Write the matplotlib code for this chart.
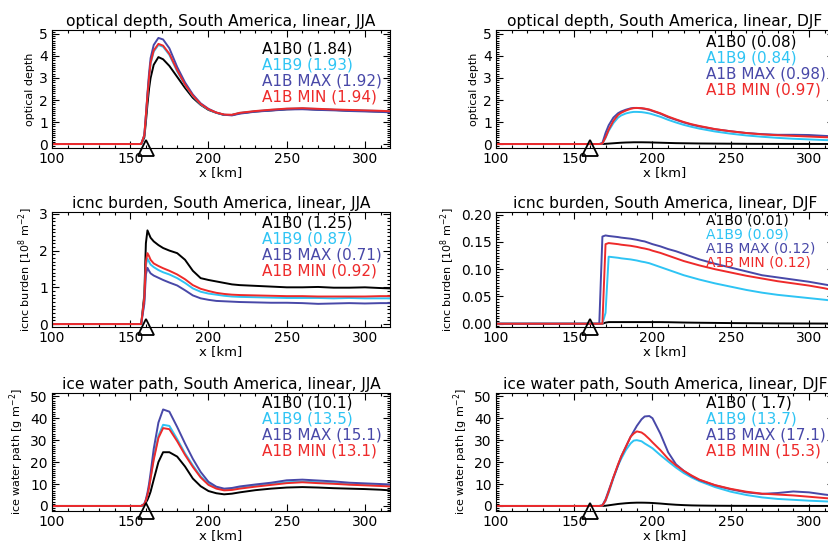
import matplotlib
matplotlib.use('Agg')
import matplotlib.pyplot as plt
from matplotlib.ticker import MultipleLocator, AutoMinorLocator, FormatStrFormatter

# x positions [km] of the read-off points
x_jja = [100, 157, 159, 160, 161, 162, 163, 165, 168, 171, 175, 180, 185, 190, 195,
         200, 205, 210, 215, 220, 230, 240, 250, 260, 270, 280, 290, 300, 310, 316]
x_djf = [100, 166, 168, 170, 172, 175, 178, 180, 183, 186, 188, 190, 193, 195, 198,
         200, 205, 210, 215, 220, 225, 230, 240, 250, 260, 270, 280, 290, 300, 310, 316]

series = ['A1B0', 'A1B9', 'A1B MAX', 'A1B MIN']
colors = ['#000000', '#2ec4f4', '#4848a8', '#ee2a2a']

# optical depth, JJA
od_jja_a1b0 = [0, 0, 0.3, 1.0, 1.8, 2.5, 3.0, 3.6, 3.95, 3.85, 3.55, 3.05, 2.55, 2.1, 1.78,
               1.55, 1.42, 1.32, 1.32, 1.4, 1.48, 1.53, 1.58, 1.6, 1.57, 1.55, 1.52, 1.5, 1.48, 1.46]
od_jja_a1b9 = [0, 0, 0.4, 1.3, 2.2, 3.0, 3.65, 4.2, 4.5, 4.42, 4.05, 3.3, 2.68, 2.18, 1.8,
               1.57, 1.42, 1.33, 1.32, 1.41, 1.49, 1.55, 1.6, 1.62, 1.59, 1.56, 1.54, 1.52, 1.5, 1.48]
od_jja_max = [0, 0, 0.4, 1.3, 2.3, 3.2, 3.9, 4.5, 4.82, 4.75, 4.35, 3.5, 2.8, 2.25, 1.85,
              1.6, 1.43, 1.33, 1.3, 1.38, 1.47, 1.52, 1.57, 1.58, 1.55, 1.53, 1.5, 1.48, 1.46, 1.44]
od_jja_min = [0, 0, 0.4, 1.3, 2.2, 3.0, 3.7, 4.25, 4.55, 4.47, 4.1, 3.35, 2.7, 2.2, 1.82,
              1.58, 1.43, 1.34, 1.33, 1.42, 1.5, 1.56, 1.61, 1.63, 1.6, 1.57, 1.55, 1.53, 1.51, 1.49]

# optical depth, DJF
od_djf_a1b0 = [0, 0, 0, 0.01, 0.02, 0.035, 0.05, 0.06, 0.07, 0.075, 0.08, 0.08, 0.08, 0.078, 0.075,
               0.07, 0.06, 0.05, 0.04, 0.035, 0.03, 0.025, 0.02, 0.015, 0.01, 0.008, 0.006, 0.005, 0.004, 0.003, 0.003]
od_djf_a1b9 = [0, 0, 0.02, 0.28, 0.6, 0.95, 1.2, 1.3, 1.39, 1.44, 1.46, 1.46, 1.45, 1.43, 1.39,
               1.35, 1.24, 1.1, 0.98, 0.87, 0.78, 0.7, 0.57, 0.47, 0.39, 0.33, 0.28, 0.24, 0.21, 0.18, 0.17]
od_djf_max = [0, 0, 0.05, 0.5, 0.85, 1.2, 1.4, 1.48, 1.56, 1.62, 1.64, 1.64, 1.62, 1.6, 1.55,
              1.5, 1.38, 1.22, 1.1, 0.98, 0.88, 0.8, 0.67, 0.58, 0.5, 0.45, 0.42, 0.42, 0.41, 0.37, 0.35]
od_djf_min = [0, 0, 0.02, 0.3, 0.65, 1.05, 1.32, 1.42, 1.52, 1.6, 1.63, 1.64, 1.63, 1.61, 1.57,
              1.52, 1.4, 1.25, 1.12, 1.0, 0.9, 0.82, 0.68, 0.58, 0.5, 0.44, 0.4, 0.37, 0.34, 0.31, 0.3]

# icnc burden, JJA
icnc_jja_a1b0 = [0, 0, 0.8, 2.2, 2.55, 2.45, 2.35, 2.25, 2.15, 2.07, 2.0, 1.93, 1.75, 1.45, 1.25,
                 1.2, 1.16, 1.12, 1.08, 1.06, 1.04, 1.02, 1.0, 1.0, 1.01, 0.99, 0.99, 1.0, 0.98, 0.97]
icnc_jja_a1b9 = [0, 0, 0.65, 1.6, 1.78, 1.7, 1.62, 1.55, 1.47, 1.41, 1.35, 1.25, 1.12, 0.97, 0.88,
                 0.83, 0.8, 0.77, 0.75, 0.74, 0.73, 0.72, 0.71, 0.71, 0.71, 0.7, 0.71, 0.7, 0.7, 0.7]
icnc_jja_max = [0, 0, 0.55, 1.35, 1.53, 1.45, 1.38, 1.32, 1.26, 1.2, 1.13, 1.05, 0.92, 0.78, 0.7,
                0.66, 0.63, 0.62, 0.61, 0.6, 0.59, 0.58, 0.58, 0.57, 0.55, 0.56, 0.57, 0.56, 0.57, 0.57]
icnc_jja_min = [0, 0, 0.7, 1.7, 1.93, 1.85, 1.75, 1.65, 1.58, 1.52, 1.45, 1.35, 1.22, 1.06, 0.96,
                0.9, 0.85, 0.82, 0.8, 0.79, 0.78, 0.77, 0.76, 0.76, 0.75, 0.75, 0.75, 0.75, 0.76, 0.76]

# icnc burden, DJF
icnc_djf_a1b0 = [0, 0, 0, 0.002, 0.003, 0.003, 0.003, 0.003, 0.003, 0.003, 0.003, 0.003, 0.003, 0.003, 0.003,
                 0.003, 0.003, 0.0028, 0.0025, 0.0022, 0.002, 0.0018, 0.0015, 0.0012, 0.001, 0.0008, 0.0006,
                 0.0005, 0.0004, 0.0003, 0.0003]
icnc_djf_a1b9 = [0, 0, 0, 0.02, 0.123, 0.122, 0.121, 0.12, 0.119, 0.118, 0.117, 0.116, 0.114, 0.113, 0.111,
                 0.109, 0.104, 0.099, 0.094, 0.089, 0.085, 0.081, 0.074, 0.068, 0.062, 0.057, 0.053, 0.05,
                 0.047, 0.044, 0.042]
icnc_djf_max = [0, 0, 0.16, 0.162, 0.161, 0.16, 0.159, 0.158, 0.157, 0.156, 0.155, 0.154, 0.152, 0.151, 0.148,
                0.146, 0.142, 0.137, 0.133, 0.128, 0.123, 0.118, 0.11, 0.103, 0.096, 0.089, 0.085, 0.081,
                0.077, 0.072, 0.069]
icnc_djf_min = [0, 0, 0, 0.146, 0.148, 0.147, 0.146, 0.145, 0.144, 0.143, 0.142, 0.141, 0.139, 0.138, 0.136,
                0.134, 0.13, 0.125, 0.12, 0.115, 0.111, 0.107, 0.1, 0.094, 0.088, 0.083, 0.078, 0.074,
                0.07, 0.065, 0.061]

# ice water path, JJA
iwp_jja_a1b0 = [0, 0, 0.5, 1.5, 2.8, 4.5, 6.5, 12, 20, 24.5, 24.5, 22.5, 18, 12.5, 9,
                6.8, 5.8, 5.3, 5.6, 6.2, 7.2, 7.9, 8.4, 8.6, 8.4, 8.1, 7.9, 7.7, 7.4, 7.1]
iwp_jja_a1b9 = [0, 0, 0.8, 2.5, 5, 8.5, 13, 22, 32, 37, 36.5, 30.5, 24, 18.5, 13.5,
                10.2, 8.3, 7.5, 7.7, 8.4, 9.3, 10, 10.8, 11.1, 10.8, 10.4, 9.9, 9.6, 9.4, 9.2]
iwp_jja_max = [0, 0, 1, 3, 6, 10, 15, 26, 38, 44, 43, 36, 28.5, 21.5, 15.5,
               11, 8.8, 7.9, 8.2, 8.9, 9.8, 10.6, 11.7, 12, 11.6, 11.2, 10.6, 10.3, 10, 9.8]
iwp_jja_min = [0, 0, 0.8, 2.5, 5, 8.2, 12.5, 21, 31, 35.5, 35, 29.5, 23.3, 17.8, 13,
               9.6, 7.9, 7.1, 7.3, 7.9, 8.8, 9.6, 10.4, 10.8, 10.4, 10.1, 9.7, 9.4, 9.1, 8.9]

# ice water path, DJF
iwp_djf_a1b0 = [0, 0, 0, 0.1, 0.3, 0.6, 0.9, 1.05, 1.25, 1.4, 1.45, 1.5, 1.5, 1.48, 1.42,
                1.35, 1.1, 0.8, 0.55, 0.38, 0.25, 0.18, 0.1, 0.06, 0.04, 0.03, 0.02, 0.02, 0.01, 0.01, 0.01]
iwp_djf_a1b9 = [0, 0, 0.2, 2.3, 6, 12.5, 18.5, 21.5, 25.5, 28.5, 29.8, 30, 29.5, 28.5, 27.2,
                26.3, 23.2, 20.3, 17.5, 15, 13, 11.3, 8.6, 6.5, 5, 3.9, 3.2, 2.8, 2.4, 2.1, 1.9]
iwp_djf_max = [0, 0, 0.3, 3, 7, 13, 18.5, 22.5, 27, 31.5, 34, 36.5, 39.5, 40.8, 41,
               40, 33, 24.5, 19, 16, 13.6, 11.8, 9.4, 7.6, 6.2, 5.5, 5.9, 6.6, 6.2, 5.2, 4.7]
iwp_djf_min = [0, 0, 0.2, 2.5, 6.5, 13, 19, 22.5, 27, 31.5, 33, 34, 33.5, 32.5, 30.5,
               29, 25.5, 21.5, 18.5, 16, 13.9, 12, 9.5, 7.8, 6.5, 5.6, 5.2, 4.8, 4.2, 3.6, 3.3]

# values in brackets next to each run name
vals_od_jja = ['1.84', '1.93', '1.92', '1.94']
vals_od_djf = ['0.08', '0.84', '0.98', '0.97']
vals_icnc_jja = ['1.25', '0.87', '0.71', '0.92']
vals_icnc_djf = ['0.01', '0.09', '0.12', '0.12']
vals_iwp_jja = ['10.1', '13.5', '15.1', '13.1']
vals_iwp_djf = [' 1.7', '13.7', '17.1', '15.3']

W, H = 829, 543
fig = plt.figure(figsize=(W / 100, H / 100), dpi=100)


def pos(x0, top, bottom, w=338):
    return [x0 / W, 1 - bottom / H, w / W, (bottom - top) / H]


panels = [
    # (position, title, ylabel, x, data, vals, ylim, major, fmt, text top, text step, text size)
    (pos(52, 30, 148), 'optical depth, South America, linear, JJA', 'optical depth', x_jja,
     [od_jja_a1b0, od_jja_a1b9, od_jja_max, od_jja_min], vals_od_jja, (-0.18, 5.18), 1, '%d', 0.84, 0.136, 11),
    (pos(496, 30, 148), 'optical depth, South America, linear, DJF', 'optical depth', x_djf,
     [od_djf_a1b0, od_djf_a1b9, od_djf_max, od_djf_min], vals_od_djf, (-0.18, 5.18), 1, '%d', 0.9, 0.136, 11),
    (pos(52, 212, 327), 'icnc burden, South America, linear, JJA', r'icnc burden [10$^8$ m$^{-2}$]', x_jja,
     [icnc_jja_a1b0, icnc_jja_a1b9, icnc_jja_max, icnc_jja_min], vals_icnc_jja, (-0.08, 3.05), 1, '%d', 0.905, 0.139, 11),
    (pos(496, 212, 327), 'icnc burden, South America, linear, DJF', r'icnc burden [10$^8$ m$^{-2}$]', x_djf,
     [icnc_djf_a1b0, icnc_djf_a1b9, icnc_djf_max, icnc_djf_min], vals_icnc_djf, (-0.006, 0.205), 0.05, '%.2f', 0.925, 0.12, 10),
    (pos(52, 393, 511), 'ice water path, South America, linear, JJA', r'ice water path [g m$^{-2}$]', x_jja,
     [iwp_jja_a1b0, iwp_jja_a1b9, iwp_jja_max, iwp_jja_min], vals_iwp_jja, (-2.3, 51.5), 10, '%d', 0.915, 0.136, 11),
    (pos(496, 393, 511), 'ice water path, South America, linear, DJF', r'ice water path [g m$^{-2}$]', x_djf,
     [iwp_djf_a1b0, iwp_djf_a1b9, iwp_djf_max, iwp_djf_min], vals_iwp_djf, (-2.3, 51.5), 10, '%d', 0.915, 0.136, 11),
]

for p, title, ylabel, x, data, vals, ylim, major, fmt, ty, dy, tsize in panels:
    ax = fig.add_axes(p)
    for y, c in zip(data, colors):
        ax.plot(x, y, color=c, lw=1.4)
    ax.set_xlim(100, 316)
    ax.set_ylim(*ylim)
    ax.xaxis.set_major_locator(MultipleLocator(50))
    ax.xaxis.set_minor_locator(MultipleLocator(10))
    ax.yaxis.set_major_locator(MultipleLocator(major))
    ax.yaxis.set_minor_locator(AutoMinorLocator(10))
    ax.yaxis.set_major_formatter(FormatStrFormatter(fmt))
    ax.tick_params(which='both', direction='in', top=True, right=True, width=0.8)
    ax.tick_params(which='major', length=5, labelsize=10, pad=3)
    ax.tick_params(which='minor', length=2.5)
    ax.set_title(title, fontsize=11.2, pad=3)
    ax.set_xlabel('x [km]', fontsize=9.5, labelpad=0)
    ax.set_ylabel(ylabel, fontsize=8, labelpad=3)
    # mountain marker
    ax.plot([160], [0], marker='^', ms=12, mfc='none', mec='black', mew=1.3,
            transform=ax.get_xaxis_transform(), clip_on=False, zorder=5)
    for i, (name, v, c) in enumerate(zip(series, vals, colors)):
        ax.text(234, ty - i * dy, f'{name} ({v})', color=c, fontsize=tsize,
                va='center', ha='left', transform=ax.get_xaxis_transform())

fig.savefig('out.png', dpi=100)
